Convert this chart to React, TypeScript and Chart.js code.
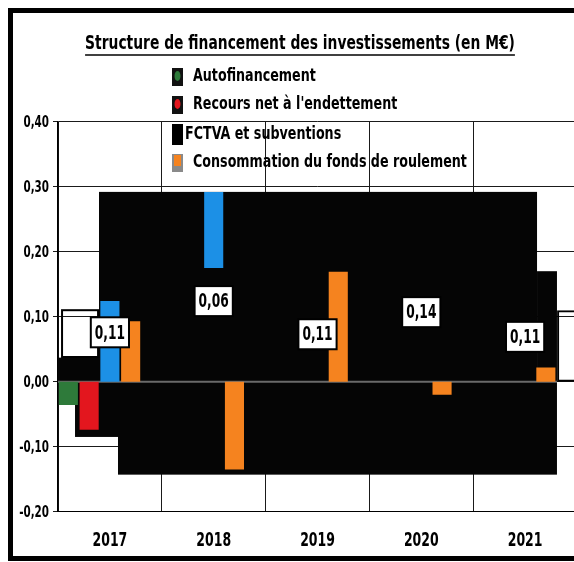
import React, { useEffect, useRef } from "react";
import { Chart, registerables } from "chart.js";

Chart.register(...registerables);

// ---------- data ----------
const categories = ["2017", "2018", "2019", "2020", "2021"];
const autofinancement: (number | null)[] = [-0.036, null, null, null, null];
const recoursEndettement: (number | null)[] = [-0.074, null, null, null, null];
// blue bars visible on the scan (FCTVA slot), partly hidden by the dark print defects
const fctvaScanBars: (number | number[] | null)[] = [0.124, [0.175, 0.292], null, null, null];
const consommationFdr: (number | null)[] = [0.093, -0.135, 0.169, -0.02, 0.022];
// values written in the white boxes
const fctvaSubventions: number[] = [0.11, 0.06, 0.11, 0.14, 0.11];
// level (in M€) at which each boxed value is printed
const valueLabelLevels: number[] = [0.076, 0.124, 0.073, 0.107, 0.069];
const yMin = -0.2;
const yMax = 0.4;
const yStep = 0.1;
// dark printing defects of the scan: [fromCategoryIndex, toCategoryIndex, fromValue, toValue]
const darkBlocks: number[][] = [
  [-0.105, 4.115, 0, 0.292],
  [4.115, 4.307, 0, 0.17],
  [0.078, 4.307, -0.143, 0],
  [-0.336, 0.078, -0.085, 0],
  [-0.5, -0.105, 0, 0.037],
];
// empty outlined box left on the scan: [fromIndex, toIndex, fromValue, toValue]
const ghostBoxes: number[][] = [[-0.461, -0.114, 0.038, 0.11]];

const titleText = "Structure de financement des investissements (en M€)";
const FONT = "'DejaVu Sans Condensed', 'DejaVu Sans', sans-serif";

const fmt = (v: number) => {
  const s = Number(v).toFixed(2).replace(".", ",");
  return s === "-0,00" ? "0,00" : s;
};

// draws text squeezed horizontally (the original uses a very narrow typeface)
function narrowText(ctx: CanvasRenderingContext2D, text: string, x: number, y: number, align: "left" | "right" | "center", squeeze: number) {
  ctx.save();
  ctx.translate(x, y);
  ctx.scale(squeeze, 1);
  ctx.textAlign = align;
  ctx.fillText(text, 0, 0);
  ctx.restore();
}

const scanPlugin = {
  id: "scanPlugin",
  beforeDraw(chart: any) {
    const { ctx, width, height } = chart;
    ctx.save();
    ctx.fillStyle = "#ffffff";
    ctx.fillRect(0, 0, width, height);
    ctx.strokeStyle = "#000";
    ctx.lineWidth = 5;
    ctx.strokeRect(10.5, 10.5, width + 20, 548);
    ctx.restore();
  },
  beforeDatasetsDraw(chart: any) {
    const { ctx } = chart;
    const xs = chart.scales.x;
    const ys = chart.scales.y;
    ctx.save();
    ctx.fillStyle = "#050505";
    darkBlocks.forEach(([a, b, c, d]) => {
      const x0 = xs.getPixelForValue(a);
      const x1 = xs.getPixelForValue(b);
      const y0 = ys.getPixelForValue(d);
      const y1 = ys.getPixelForValue(c);
      ctx.fillRect(x0, y0, x1 - x0, y1 - y0);
    });
    // zero line visible through the dark area
    ctx.strokeStyle = "#6a6a6a";
    ctx.lineWidth = 2;
    ctx.beginPath();
    const yz = ys.getPixelForValue(0);
    ctx.moveTo(xs.getPixelForValue(-0.5), yz);
    ctx.lineTo(xs.getPixelForValue(4.307), yz);
    ctx.stroke();
    ctx.strokeStyle = "#000";
    ctx.lineWidth = 2;
    ghostBoxes.forEach(([a, b, c, d]) => {
      const x0 = xs.getPixelForValue(a);
      const x1 = xs.getPixelForValue(b);
      const y0 = ys.getPixelForValue(d);
      const y1 = ys.getPixelForValue(c);
      ctx.strokeRect(x0, y0, x1 - x0, y1 - y0);
    });
    ctx.restore();
  },
  afterDatasetsDraw(chart: any) {
    const { ctx } = chart;
    const xs = chart.scales.x;
    const ys = chart.scales.y;
    ctx.save();
    ctx.font = `bold 20px ${FONT}`;
    ctx.textBaseline = "middle";
    fctvaSubventions.forEach((v, i) => {
      const x = xs.getPixelForValue(i);
      const y = ys.getPixelForValue(valueLabelLevels[i]);
      const t = fmt(v);
      const w = ctx.measureText(t).width * 0.68 + 8;
      const h = 30;
      ctx.fillStyle = "#fff";
      ctx.fillRect(x - w / 2, y - h / 2, w, h);
      ctx.strokeStyle = "#000";
      ctx.lineWidth = 2;
      ctx.strokeRect(x - w / 2, y - h / 2, w, h);
      ctx.fillStyle = "#000";
      narrowText(ctx, t, x, y + 1, "center", 0.68);
    });
    ctx.restore();
  },
  afterDraw(chart: any) {
    const { ctx } = chart;
    const xs = chart.scales.x;
    const ys = chart.scales.y;
    ctx.save();
    ctx.fillStyle = "#000";

    // axis tick labels (taken from the scales)
    ctx.font = `bold 16px ${FONT}`;
    ctx.textBaseline = "middle";
    ys.ticks.forEach((t: any, i: number) => {
      narrowText(ctx, fmt(t.value), ys.right - 9, ys.getPixelForTick(i) + 1, "right", 0.72);
    });
    ctx.font = `bold 19px ${FONT}`;
    xs.ticks.forEach((t: any, i: number) => {
      narrowText(ctx, String(xs.getLabelForValue(t.value)), xs.getPixelForTick(i), 541, "center", 0.73);
    });

    // title
    ctx.font = `bold 20px ${FONT}`;
    ctx.textBaseline = "alphabetic";
    const tx = 300;
    const ty = 49;
    const sq = 0.77;
    narrowText(ctx, titleText, tx, ty, "center", sq);
    const tw = ctx.measureText(titleText).width * sq;
    ctx.strokeStyle = "#000";
    ctx.lineWidth = 1.5;
    ctx.beginPath();
    ctx.moveTo(tx - tw / 2, ty + 6);
    ctx.lineTo(tx + tw / 2, ty + 6);
    ctx.stroke();

    // legend (order of the original legend)
    const ds = chart.data.datasets;
    const order = [0, 1, 4, 3];
    const rowsY = [77, 105, 135, 163];
    ctx.font = `bold 17px ${FONT}`;
    ctx.textBaseline = "middle";
    order.forEach((di, k) => {
      const d = ds[di];
      const y = rowsY[k];
      const mx = 172;
      if (d.legendStyle === "dot") {
        ctx.fillStyle = "#111";
        ctx.fillRect(mx, y - 9, 11, 18);
        ctx.fillStyle = d.backgroundColor;
        ctx.beginPath();
        ctx.ellipse(mx + 5.5, y - 1, 3, 5, 0, 0, Math.PI * 2);
        ctx.fill();
      } else if (d.legendStyle === "solid") {
        ctx.fillStyle = "#000";
        ctx.fillRect(mx, y - 11, 11, 21);
      } else {
        ctx.fillStyle = "#8a8a8a";
        ctx.fillRect(mx, y - 9, 11, 18);
        ctx.fillStyle = d.backgroundColor;
        ctx.fillRect(mx + 2, y - 8, 7, 11);
      }
      ctx.fillStyle = "#000";
      narrowText(ctx, d.label, d.legendStyle === "solid" ? 185 : 193, y, "left", 0.83);
    });
    ctx.restore();
  },
};

export default function App() {
  const ref = useRef<HTMLCanvasElement>(null);
  useEffect(() => {
    if (!ref.current) return;
    const chart = new Chart(ref.current, {
      type: "bar",
      data: {
        labels: categories,
        datasets: [
          { label: "Autofinancement", data: autofinancement, backgroundColor: "#2e7a3a", legendStyle: "dot" } as any,
          { label: "Recours net à l'endettement", data: recoursEndettement, backgroundColor: "#e3161e", legendStyle: "dot" } as any,
          { label: "", data: fctvaScanBars, backgroundColor: "#1c90e6" } as any,
          { label: "Consommation du fonds de roulement", data: consommationFdr, backgroundColor: "#f5831f", legendStyle: "box" } as any,
          {
            label: "FCTVA et subventions",
            data: fctvaSubventions,
            backgroundColor: "rgba(0,0,0,0)",
            // only the last FCTVA bar shows on the scan, as an empty outline
            borderColor: (c: any) => (c.dataIndex === fctvaSubventions.length - 1 ? "#000" : "rgba(0,0,0,0)"),
            borderWidth: 2,
            borderSkipped: false,
            legendStyle: "solid",
          } as any,
        ],
      },
      options: {
        responsive: false,
        animation: false,
        devicePixelRatio: 1,
        datasets: { bar: { categoryPercentage: 1, barPercentage: 0.92 } },
        layout: { padding: { top: 121.7, right: 23, bottom: 0, left: 0 } },
        plugins: { legend: { display: false }, title: { display: false }, tooltip: { enabled: false } },
        scales: {
          x: {
            type: "category",
            offset: true,
            grid: { offset: true, color: "#1a1a1a", lineWidth: 1, drawTicks: false },
            border: { display: true, color: "#000", width: 1 },
            ticks: { display: false },
            afterFit: (s: any) => {
              s.height = 50.3;
            },
          },
          y: {
            min: yMin,
            max: yMax,
            ticks: { stepSize: yStep, display: false },
            grid: { color: "#1a1a1a", lineWidth: 1, tickLength: 5 },
            border: { display: true, color: "#000", width: 1.5 },
            afterFit: (s: any) => {
              s.width = 58;
            },
          },
        },
      } as any,
      plugins: [scanPlugin],
    });
    return () => chart.destroy();
  }, []);
  return (
    <div style={{ position: "absolute", left: 0, top: 0, width: 574, height: 562, overflow: "hidden", background: "#fff" }}>
      <canvas ref={ref} width={600} height={562} style={{ display: "block", width: 600, height: 562 }} />
    </div>
  );
}
